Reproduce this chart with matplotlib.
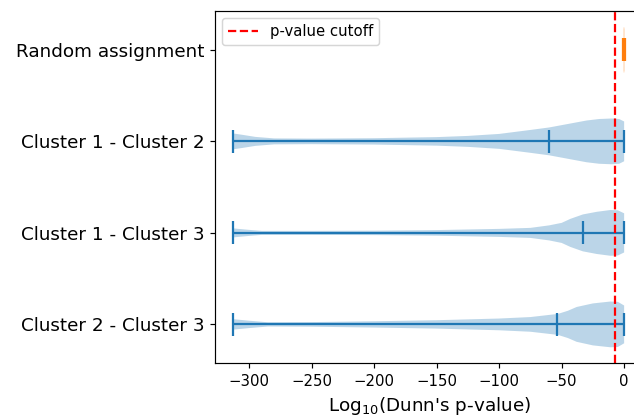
import numpy as np
import matplotlib
matplotlib.use('Agg')
import matplotlib.pyplot as plt

# log10 Dunn p-values, violin profiles
labels = ['Cluster 2 - Cluster 3', 'Cluster 1 - Cluster 3', 'Cluster 1 - Cluster 2', 'Random assignment']

c12_x = [-313, -305, -295, -280, -250, -200, -150, -125, -100, -75, -60, -45, -30, -20, -10, -4, 0]
c12_d = [8, 6.5, 4.5, 3, 2.8, 3.2, 4.3, 5.5, 7.5, 11.5, 14, 17.5, 21, 22.5, 23, 22.5, 20]

c13_x = [-313, -300, -290, -250, -200, -150, -100, -75, -60, -50, -43, -33, -22, -11, -5, 0]
c13_d = [4.5, 3, 2, 2, 2.2, 2.8, 4, 5, 7.5, 10, 14, 18.4, 21, 22.8, 22.5, 19.5]

c23_x = [-313, -300, -285, -250, -200, -150, -100, -75, -53, -45, -38, -25, -11, -5, 0]
c23_d = [5, 3.5, 2, 2.2, 3, 4, 5.6, 7, 10, 13, 16.6, 20, 21.8, 21.5, 18]

rand_x = [-0.6, -0.3, 0, 0.4]
rand_d = [20, 22, 22, 20]

medians = [-54, -33, -60]   # c23, c13, c12
mins = [-313, -313, -313]
maxs = [0, 0, 0]
rand_median = -0.1
cutoff = -7


def stats(x, d, med, lo, hi):
    return dict(coords=np.array(x, float), vals=np.array(d, float),
                mean=med, median=med, min=lo, max=hi)


cluster_stats = [stats(c23_x, c23_d, medians[0], mins[0], maxs[0]),
                 stats(c13_x, c13_d, medians[1], mins[1], maxs[1]),
                 stats(c12_x, c12_d, medians[2], mins[2], maxs[2])]
rand_stats = [stats(rand_x, rand_d, rand_median, rand_x[0], rand_x[-1])]

fig = plt.figure(figsize=(634 / 107, 416 / 107), dpi=107)
ax = fig.add_axes([0.3386, 0.1267, 0.6767, 0.8469])

ax.violin(cluster_stats, positions=[1, 2, 3], orientation='horizontal',
          widths=0.5, showmedians=True)
ax.violin(rand_stats, positions=[4], orientation='horizontal',
          widths=0.5, showmedians=True)

ax.axvline(cutoff, color='red', linestyle='--', label='p-value cutoff')
ax.set_xlim(-327.7, 15.65)
ax.set_ylim(0.575, 4.425)
ax.set_yticks([1, 2, 3, 4])
ax.set_yticklabels(labels, fontsize=12.4)
ax.set_xlabel('Log$_{10}$(Dunn\'s p-value)', fontsize=12.4)
ax.legend(loc='upper left')

fig.savefig('out.png', dpi=107)
